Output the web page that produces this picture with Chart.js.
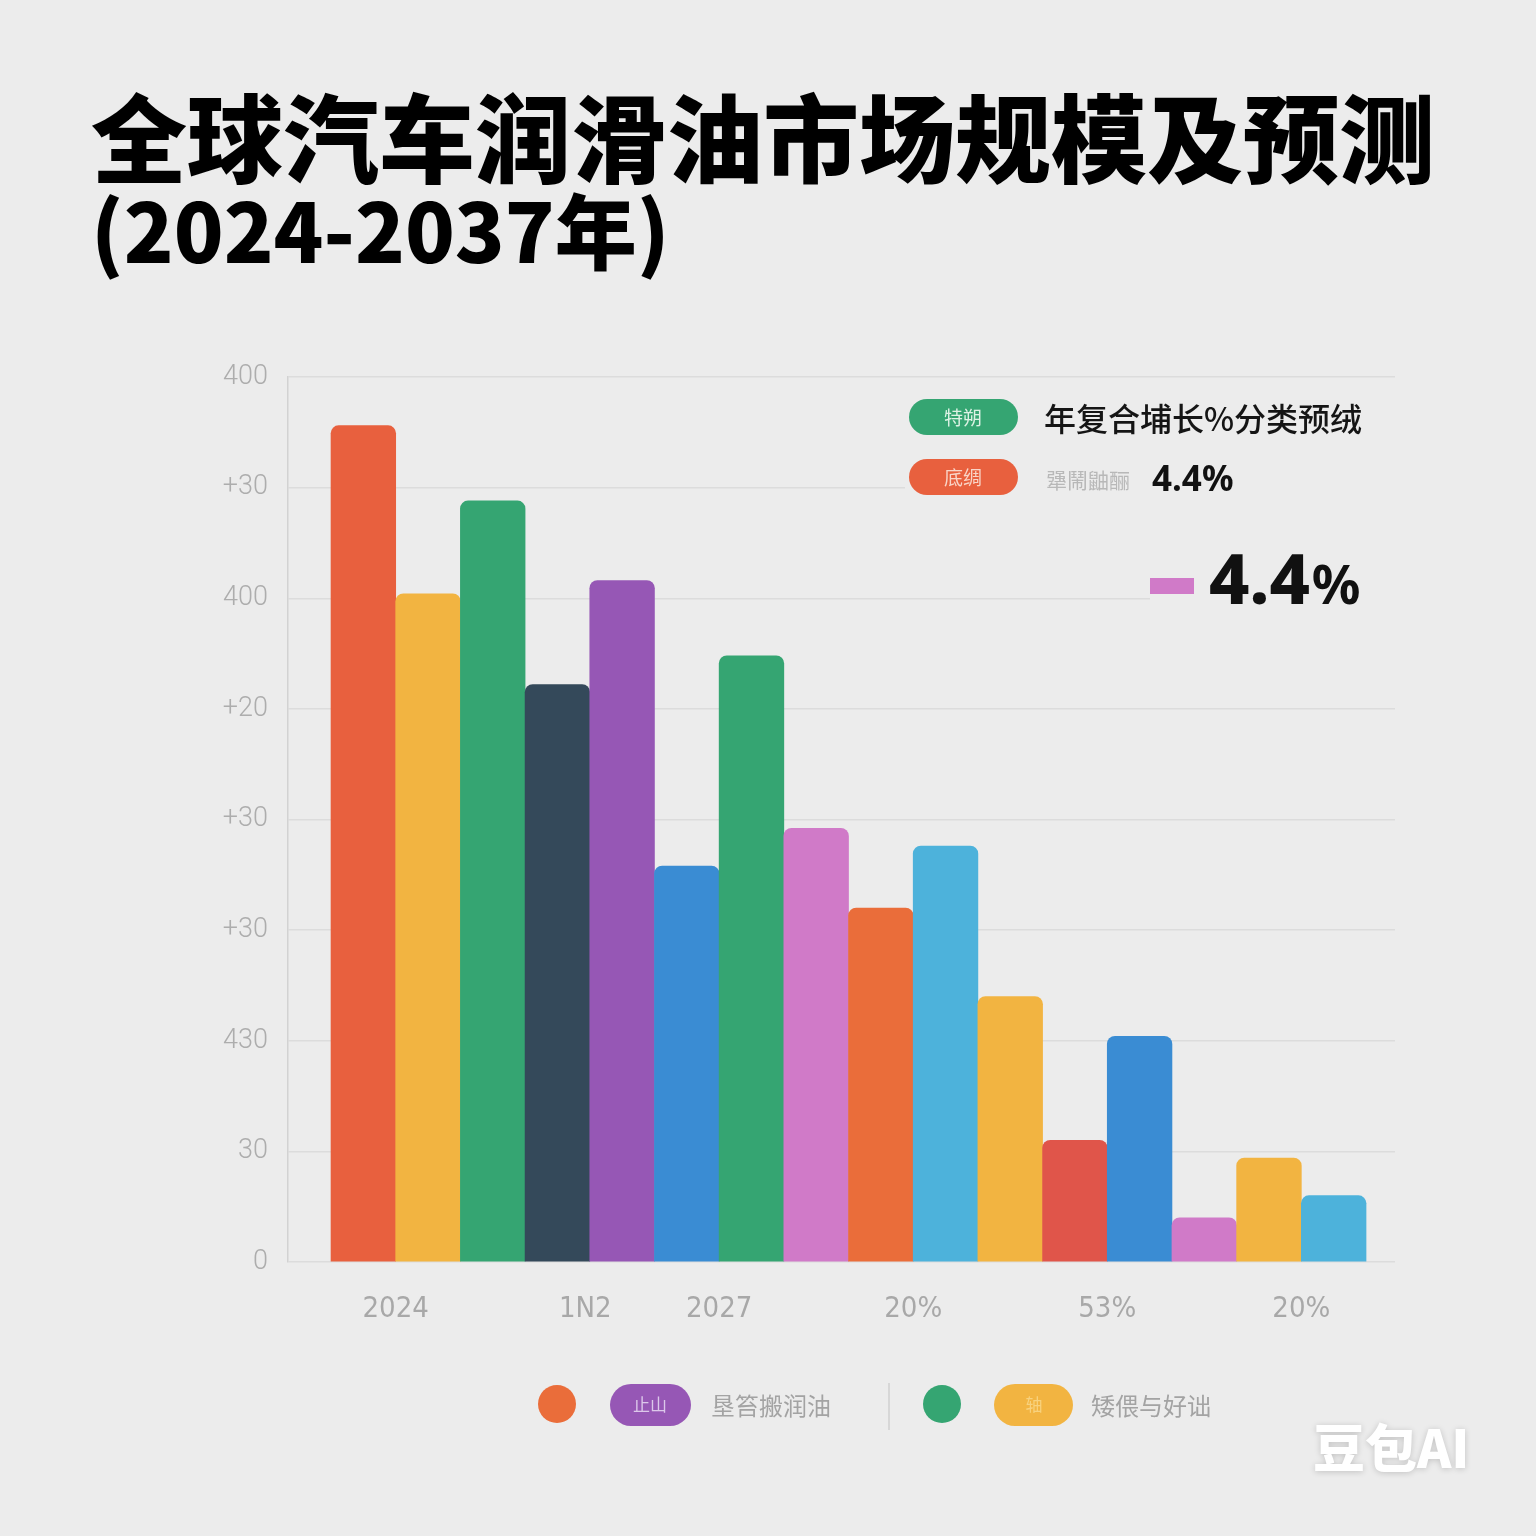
<!DOCTYPE html>
<html><head><meta charset="utf-8">
<script src="https://cdn.jsdelivr.net/npm/chart.js@4.4.1/dist/chart.umd.min.js"></script>
<style>html,body{margin:0;padding:0;background:#ECECEC;}#wrap{width:1536px;height:1536px;}</style>
</head><body><div id="wrap"><canvas id="c" width="1536" height="1536"></canvas></div>
<script>
const titleText = "全球汽车润滑油市场规模及预测";
const subtitleText = "(2024-2037年)";
const barValues = [378, 302, 344, 261, 308, 179, 274, 196, 160, 188, 120, 55, 102, 20, 47, 30];
const barColors = ["#E8603E","#F2B441","#35A572","#34495A","#9657B5","#3A8CD3","#35A572","#D07AC8",
                   "#EA6D3A","#4DB2DB","#F2B441","#E0554A","#3A8CD3","#D07AC8","#F2B441","#4DB2DB"];
const yTickLabels = ["0","30","430","+30","+30","+20","400","+30","400"];
const xTickPositions = [0.5, 3.43, 5.5, 8.5, 11.5, 14.5];
const xTickLabels = ["2024","1N2","2027","20%","53%","20%"];
const topLegendTitle = "年复合埔长%分类预绒";
const topLegendPills = ["特朔","底绸"];
const topLegendNote = "犟鬧鼬酾";
const cagrSmall = "4.4%";
const cagrBigNum = "4.4";
const cagrBigPct = "%";
const bottomLegendPills = ["止山","轴"];
const bottomLegendTexts = ["垦笞搬润油","矮偎与好诎"];
const watermark = "豆包AI";

const BG = "#ECECEC";
const CJK = "'Noto Sans CJK SC','Noto Sans',sans-serif";

function txt(ctx, s, x, y, font, color, align, base){
  ctx.font = font; ctx.fillStyle = color; ctx.textAlign = align || 'left'; ctx.textBaseline = base || 'middle';
  ctx.fillText(s, x, y);
}
function pill(ctx, x, y, w, h, color){
  ctx.beginPath(); ctx.roundRect(x, y, w, h, h/2); ctx.fillStyle = color; ctx.fill();
}
function dot(ctx, x, y, r, color){
  ctx.beginPath(); ctx.arc(x, y, r, 0, Math.PI*2); ctx.fillStyle = color; ctx.fill();
}

const decor = {
  id: 'decor',
  beforeDraw(chart){
    const c = chart.ctx; c.save(); c.fillStyle = BG; c.fillRect(0,0,chart.width,chart.height); c.restore();
  },
  beforeDatasetsDraw(chart){
    const c = chart.ctx; c.save(); c.fillStyle = BG;
    c.fillRect(905, 395, 492, 105); c.fillRect(1150, 500, 247, 115);
    c.restore();
  },
  afterDraw(chart){
    const c = chart.ctx; c.save();
    // top-right legend
    pill(c, 909, 399, 109, 36, "#35A572");
    txt(c, topLegendPills[0], 963, 418, "400 19px "+CJK, "#DDF2E4", 'center');
    txt(c, topLegendTitle, 1044, 419, "500 32px "+CJK, "#151515");
    pill(c, 909, 459, 109, 36, "#E8603E");
    txt(c, topLegendPills[1], 963, 478, "400 19px "+CJK, "#F9D5C8", 'center');
    txt(c, topLegendNote, 1046, 480, "400 21px "+CJK, "#B8B8B8");
    txt(c, cagrSmall, 1152, 481, "700 35px 'Noto Sans',sans-serif", "#111111");
    c.fillStyle = "#D07AC8"; c.fillRect(1150, 578, 44, 16);
    txt(c, cagrBigNum, 1209, 604, "800 70px 'Noto Sans',sans-serif", "#111111", 'left', 'alphabetic');
    const w = c.measureText(cagrBigNum).width;
    txt(c, cagrBigPct, 1209 + w + 2, 604, "700 54px 'Noto Sans',sans-serif", "#111111", 'left', 'alphabetic');
    // bottom legend
    dot(c, 557, 1404, 19, "#EA6D3A");
    pill(c, 610, 1384, 81, 42, "#9657B5");
    txt(c, bottomLegendPills[0], 650, 1405, "400 17px "+CJK, "#DCC8EA", 'center');
    txt(c, bottomLegendTexts[0], 711, 1406, "400 24px "+CJK, "#A3A3A3");
    c.strokeStyle = "#D0D0D0"; c.lineWidth = 1.5; c.beginPath(); c.moveTo(889,1383); c.lineTo(889,1430); c.stroke();
    dot(c, 942, 1404, 19, "#35A572");
    pill(c, 994, 1384, 79, 42, "#F2B441");
    txt(c, bottomLegendPills[1], 1034, 1405, "400 17px "+CJK, "#F8D27E", 'center');
    txt(c, bottomLegendTexts[1], 1091, 1406, "400 24px "+CJK, "#A3A3A3");
    // watermark
    c.shadowColor = "rgba(0,0,0,0.18)"; c.shadowBlur = 6; c.shadowOffsetY = 1;
    txt(c, watermark, 1313, 1468, "900 52px "+CJK, "#FFFFFF", 'left', 'alphabetic');
    c.restore();
  }
};

new Chart(document.getElementById('c'), {
  type: 'bar',
  data: {
    datasets: [{
      data: barValues.map((v, i) => ({x: i, y: v})),
      backgroundColor: barColors,
      borderRadius: 8,
      borderSkipped: 'start',
      barPercentage: 1,
      categoryPercentage: 1
    }]
  },
  options: {
    responsive: false, animation: false, devicePixelRatio: 1,
    layout: {padding: {left: 91, right: 0, top: 0, bottom: 174}},
    plugins: {
      legend: {display: false}, tooltip: {enabled: false},
      title: {display: true, text: titleText, align: 'start', color: '#000',
        font: {family: CJK, size: 96, weight: 900, lineHeight: 1}, padding: {top: 91, bottom: 4}},
      subtitle: {display: true, text: subtitleText, align: 'start', color: '#000',
        font: {family: CJK, size: 82, weight: 800, lineHeight: 1}, padding: {top: 0, bottom: 104}}
    },
    scales: {
      x: {
        type: 'linear', min: -1.165, max: 15.948, offset: false,
        grid: {display: false}, border: {display: false},
        afterBuildTicks: s => { s.ticks = xTickPositions.map(v => ({value: v})); },
        afterFit: s => { s.height = 100; },
        ticks: {callback: (v, i) => xTickLabels[i], color: '#A8A8A8', padding: 22,
          autoSkip: false, maxRotation: 0,
          font: {family: "'Liberation Sans Narrow','DejaVu Sans Condensed',sans-serif", size: 29}}
      },
      y: {
        min: 0, max: 400,
        afterBuildTicks: s => { s.ticks = yTickLabels.map((_, i) => ({value: i * 50})); },
        afterFit: s => { s.width = 197; },
        ticks: {callback: (v, i) => yTickLabels[i], color: '#ADADAD', padding: 20,
          font: {family: "Roboto,'Open Sans',sans-serif", size: 27, weight: 300}},
        grid: {color: '#DCDCDC', lineWidth: 1.5, drawTicks: false},
        border: {display: true, color: '#D2D2D2', width: 1.5}
      },
      yRight: {
        position: 'right', display: true,
        ticks: {display: false}, grid: {display: false}, border: {display: false},
        afterFit: s => { s.width = 141; }
      }
    }
  },
  plugins: [decor]
});
</script></body></html>
